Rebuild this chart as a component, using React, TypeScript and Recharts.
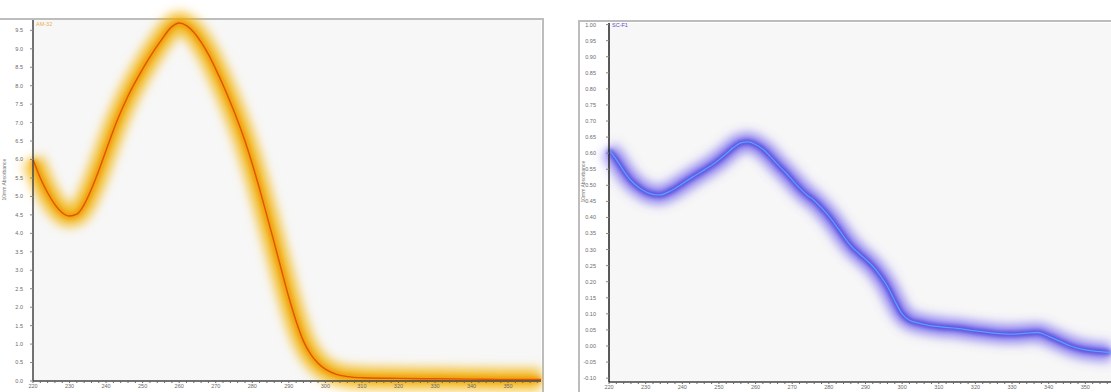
import { CartesianGrid, Line, LineChart, XAxis, YAxis } from "recharts";

// AM-32 absorbance trace (left panel)
const amWavelength = [
  220, 222, 224, 226, 228, 230, 232, 234, 236, 238, 240, 243, 246, 249, 252, 255, 258, 260,
  262, 264, 266, 268, 270, 272, 274, 276, 278, 280, 282, 284, 286, 288, 290, 292, 294, 296,
  298, 300, 303, 306, 310, 320, 330, 340, 350, 359,
];
const amAbsorbance = [
  6.0, 5.5, 5.1, 4.78, 4.56, 4.47, 4.52, 4.78, 5.2, 5.7, 6.25, 7.05, 7.72, 8.28, 8.78, 9.22, 9.6, 9.7,
  9.63, 9.45, 9.18, 8.85, 8.45, 8.02, 7.55, 7.05, 6.5, 5.88, 5.2, 4.48, 3.75, 3.0, 2.27, 1.62, 1.08, 0.72,
  0.48, 0.32, 0.18, 0.12, 0.09, 0.07, 0.06, 0.05, 0.04, 0.04,
];

// SC-F1 absorbance trace (right panel)
const scWavelength = [
  220, 222, 224, 226, 228, 230, 232, 234, 236, 238, 240, 243, 246, 249, 252, 254, 256, 258,
  260, 262, 264, 266, 268, 270, 272, 274, 276, 278, 280, 282, 284, 286, 288, 290, 292, 294,
  296, 298, 300, 302, 305, 310, 315, 320, 325, 330, 334, 337, 340, 343, 346, 349, 352, 357,
];
const scAbsorbance = [
  0.61, 0.58, 0.545, 0.515, 0.495, 0.48, 0.472, 0.47, 0.478, 0.49, 0.505, 0.527, 0.548, 0.57, 0.598, 0.618, 0.632, 0.635,
  0.627, 0.612, 0.59, 0.565, 0.542, 0.517, 0.492, 0.47, 0.453, 0.43, 0.404, 0.374, 0.342, 0.312, 0.29, 0.27, 0.248, 0.22,
  0.185, 0.14, 0.1, 0.08, 0.07, 0.06, 0.055, 0.047, 0.04, 0.037, 0.04, 0.042, 0.03, 0.015, 0.0, -0.01, -0.015, -0.02,
];

const xTicksMinor = Array.from({ length: 70 }, (_, i) => 220 + i * 2);
const amYTicks = Array.from({ length: 20 }, (_, i) => i * 0.5);
const scYTicks = Array.from({ length: 23 }, (_, i) => -0.1 + i * 0.05);

const amData = amWavelength.map((x, i) => ({ x, y: amAbsorbance[i] }));
const scData = scWavelength.map((x, i) => ({ x, y: scAbsorbance[i] }));

const FONT = "'Liberation Sans', 'DejaVu Sans', sans-serif";
const tick = { fontSize: 5.5, fill: "#6a6a6a", fontFamily: FONT };
const axisLine = { stroke: "#444", strokeWidth: 1.5 };

const xLabel = (v: number) => (Math.round(v) % 10 === 0 ? String(Math.round(v)) : "");

export default function App() {
  return (
    <div style={{ position: "absolute", left: 0, top: 0, width: 1111, height: 392, background: "#fff", overflow: "hidden" }}>
      <style>{`
        .glowWide .recharts-line-curve { filter: url(#blurWide); }
        .glowMid .recharts-line-curve { filter: url(#blurMid); }
      `}</style>

      {/* left panel frame */}
      <div style={{ position: "absolute", left: 0, top: 18, width: 542, height: 380, borderTop: "2px solid #bdbdbd", borderRight: "2px solid #bdbdbd" }} />
      <div style={{ position: "absolute", left: 0, top: 0 }}>
        <LineChart width={543} height={392} data={amData} margin={{ top: 20, right: 2, bottom: 1, left: 0 }}>
          <defs>
            <filter id="blurWide" x="-20%" y="-20%" width="140%" height="140%">
              <feGaussianBlur stdDeviation="5.5" />
            </filter>
            <filter id="blurMid" x="-20%" y="-20%" width="140%" height="140%">
              <feGaussianBlur stdDeviation="2" />
            </filter>
          </defs>
          <CartesianGrid horizontal={false} vertical={false} fill="#f7f7f7" />
          <XAxis
            dataKey="x"
            type="number"
            domain={[220, 359]}
            ticks={xTicksMinor}
            tickFormatter={xLabel}
            interval={0}
            tick={tick}
            tickSize={2}
            tickMargin={1}
            height={10}
            axisLine={axisLine}
            tickLine={{ stroke: "#666" }}
          />
          <YAxis
            type="number"
            domain={[0, 9.78]}
            ticks={amYTicks}
            tickFormatter={(v: number) => v.toFixed(1)}
            interval={0}
            tick={tick}
            tickSize={3}
            tickMargin={7}
            width={33}
            axisLine={axisLine}
            tickLine={{ stroke: "#888" }}
            label={{ value: "10mm Absorbance", angle: -90, position: "insideLeft", offset: 4, style: { fontSize: 5, fill: "#777", fontFamily: FONT } }}
          />
          <Line className="glowWide" dataKey="y" type="monotone" stroke="#f2b000" strokeOpacity={0.85} strokeWidth={21} dot={false} isAnimationActive={false} />
          <Line className="glowMid" dataKey="y" type="monotone" stroke="#ef9200" strokeOpacity={0.75} strokeWidth={6} dot={false} isAnimationActive={false} />
          <Line dataKey="y" type="monotone" stroke="#e05500" strokeWidth={1.4} dot={false} isAnimationActive={false} />
        </LineChart>
      </div>
      <div style={{ position: "absolute", left: 36, top: 21, fontSize: 5.5, color: "#e8b050", fontFamily: FONT }}>AM-32</div>

      {/* right panel frame */}
      <div style={{ position: "absolute", left: 578, top: 20, width: 540, height: 380, borderTop: "2px solid #bdbdbd", borderLeft: "2px solid #bdbdbd" }} />
      <div style={{ position: "absolute", left: 580, top: 22 }}>
        <LineChart width={531} height={370} data={scData} margin={{ top: 1, right: 0, bottom: 0, left: 0 }}>
          <CartesianGrid horizontal={false} vertical={false} fill="#f7f7f7" />
          <XAxis
            dataKey="x"
            type="number"
            domain={[220, 356.5]}
            ticks={xTicksMinor.filter((t) => t <= 356)}
            tickFormatter={xLabel}
            interval={0}
            tick={tick}
            tickSize={2}
            tickMargin={1}
            height={10}
            axisLine={axisLine}
            tickLine={{ stroke: "#666" }}
          />
          <YAxis
            type="number"
            domain={[-0.112, 1.005]}
            ticks={scYTicks}
            tickFormatter={(v: number) => v.toFixed(2)}
            interval={0}
            tick={tick}
            tickSize={3}
            tickMargin={10}
            width={29}
            axisLine={{ stroke: "#222", strokeWidth: 1.5 }}
            tickLine={{ stroke: "#888" }}
            label={{ value: "10mm Absorbance", angle: -90, position: "insideLeft", offset: 3, style: { fontSize: 5, fill: "#777", fontFamily: FONT } }}
          />
          <Line className="glowWide" dataKey="y" type="monotone" stroke="#6a58ec" strokeOpacity={0.75} strokeWidth={18} dot={false} isAnimationActive={false} />
          <Line className="glowMid" dataKey="y" type="monotone" stroke="#3c33d8" strokeOpacity={0.8} strokeWidth={5} dot={false} isAnimationActive={false} />
          <Line dataKey="y" type="monotone" stroke="#5aa0ff" strokeWidth={1.3} dot={false} isAnimationActive={false} />
        </LineChart>
      </div>
      <div style={{ position: "absolute", left: 612, top: 22, fontSize: 5.5, color: "#5a50c8", fontFamily: FONT }}>SC-F1</div>
    </div>
  );
}
